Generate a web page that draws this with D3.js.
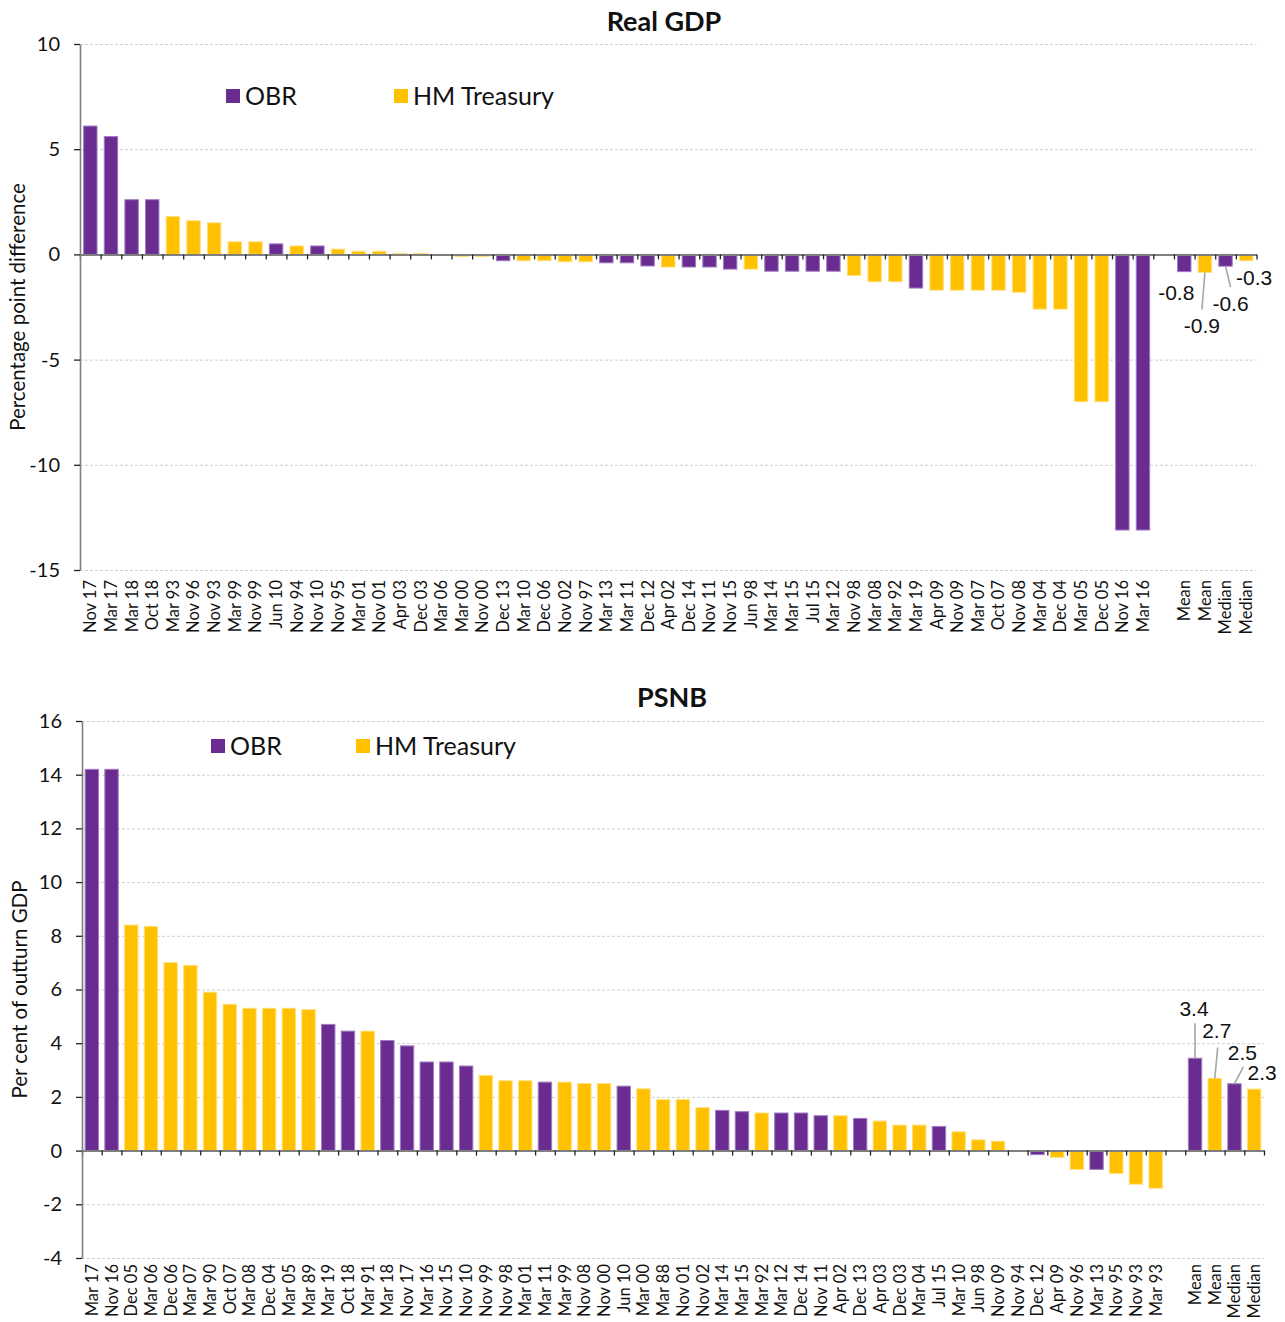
<!DOCTYPE html>
<html>
<head>
<meta charset="utf-8">
<script src="https://cdn.jsdelivr.net/npm/d3@7"></script>
<style>
  body { margin: 0; background: #fff; }
  text { font-family: Lato, "Open Sans", sans-serif; fill: #111; }
</style>
</head>
<body>
<svg id="chart" width="1285" height="1322"></svg>
<script>
// ---- Real GDP: forecast error by forecast round (percentage points) ----
const gdpLabels = ["Nov 17","Mar 17","Mar 18","Oct 18","Mar 93","Nov 96","Nov 93","Mar 99","Nov 99","Jun 10",
  "Nov 94","Nov 10","Nov 95","Mar 01","Nov 01","Apr 03","Dec 03","Mar 06","Mar 00","Nov 00",
  "Dec 13","Mar 10","Dec 06","Nov 02","Nov 97","Mar 13","Mar 11","Dec 12","Apr 02","Dec 14",
  "Nov 11","Nov 15","Jun 98","Mar 14","Mar 15","Jul 15","Mar 12","Nov 98","Mar 08","Mar 92",
  "Mar 19","Apr 09","Nov 09","Mar 07","Oct 07","Nov 08","Mar 04","Dec 04","Mar 05","Dec 05",
  "Nov 16","Mar 16","","Mean","Mean","Median","Median"];
const gdpValues = [6.1,5.6,2.6,2.6,1.8,1.6,1.5,0.6,0.6,0.5,
  0.4,0.4,0.25,0.15,0.15,0.05,0.05,-0.05,-0.1,-0.1,
  -0.3,-0.3,-0.3,-0.35,-0.35,-0.4,-0.4,-0.55,-0.6,-0.6,
  -0.6,-0.7,-0.7,-0.8,-0.8,-0.8,-0.8,-1.0,-1.3,-1.3,
  -1.6,-1.7,-1.7,-1.7,-1.7,-1.8,-2.6,-2.6,-7.0,-7.0,
  -13.1,-13.1,null,-0.82,-0.86,-0.56,-0.3];
const gdpSource = ["OBR","OBR","OBR","OBR","HMT","HMT","HMT","HMT","HMT","OBR",
  "HMT","OBR","HMT","HMT","HMT","HMT","HMT","HMT","HMT","HMT",
  "OBR","HMT","HMT","HMT","HMT","OBR","OBR","OBR","HMT","OBR",
  "OBR","OBR","HMT","OBR","OBR","OBR","OBR","HMT","HMT","HMT",
  "OBR","HMT","HMT","HMT","HMT","HMT","HMT","HMT","HMT","HMT",
  "OBR","OBR",null,"OBR","HMT","OBR","HMT"];
const gdpTicks = [-15,-10,-5,0,5,10];

// ---- PSNB: forecast error (per cent of outturn GDP) ----
const psnbLabels = ["Mar 17","Nov 16","Dec 05","Mar 06","Dec 06","Mar 07","Mar 90","Oct 07","Mar 08","Dec 04",
  "Mar 05","Mar 89","Mar 19","Oct 18","Mar 91","Mar 18","Nov 17","Mar 16","Nov 15","Nov 10",
  "Nov 99","Nov 98","Mar 01","Mar 11","Mar 99","Nov 08","Nov 00","Jun 10","Mar 00","Mar 88",
  "Nov 01","Nov 02","Mar 14","Mar 15","Mar 92","Mar 12","Dec 14","Nov 11","Apr 02","Dec 13",
  "Apr 03","Dec 03","Mar 04","Jul 15","Mar 10","Jun 98","Nov 09","Nov 94","Dec 12","Apr 09",
  "Nov 96","Mar 13","Nov 95","Nov 93","Mar 93","","Mean","Mean","Median","Median"];
const psnbValues = [14.2,14.2,8.4,8.35,7.0,6.9,5.9,5.45,5.3,5.3,
  5.3,5.25,4.7,4.45,4.45,4.1,3.9,3.3,3.3,3.15,
  2.8,2.6,2.6,2.55,2.55,2.5,2.5,2.4,2.3,1.9,
  1.9,1.6,1.5,1.45,1.4,1.4,1.4,1.3,1.3,1.2,
  1.1,0.95,0.95,0.9,0.7,0.4,0.35,0,-0.15,-0.25,
  -0.7,-0.7,-0.85,-1.25,-1.4,null,3.44,2.69,2.49,2.29];
const psnbSource = ["OBR","OBR","HMT","HMT","HMT","HMT","HMT","HMT","HMT","HMT",
  "HMT","HMT","OBR","OBR","HMT","OBR","OBR","OBR","OBR","OBR",
  "HMT","HMT","HMT","OBR","HMT","HMT","HMT","OBR","HMT","HMT",
  "HMT","HMT","OBR","OBR","HMT","OBR","OBR","OBR","HMT","OBR",
  "HMT","HMT","HMT","OBR","HMT","HMT","HMT","HMT","OBR","HMT",
  "HMT","OBR","HMT","HMT","HMT",null,"OBR","HMT","OBR","HMT"];
const psnbTicks = [-4,-2,0,2,4,6,8,10,12,14,16];

const seriesNames = { OBR: "OBR", HMT: "HM Treasury" };
const colors = { OBR: "#6b2c91", HMT: "#ffc000" };
const edges = { OBR: "#a07cc0", HMT: "#ffe07a" };

const svg = d3.select("#chart");
// plain hyphen for negatives, as in the original
const fmt = v => d3.format(".1f")(v).replace("\u2212", "-");
const tickFmt = v => String(v);

function drawPanel(cfg) {
  const n = cfg.labels.length;
  const rows = cfg.labels.map((l, i) => ({ i: i, label: l, value: cfg.values[i], src: cfg.source[i] }));
  const g = svg.append("g");

  const x = d3.scaleBand()
    .domain(d3.range(n))
    .range([cfg.left, cfg.right])
    .paddingInner(cfg.pad)
    .paddingOuter(cfg.pad / 2);
  const slot = d3.scaleLinear().domain([0, n]).range([cfg.left, cfg.right]);
  const y = d3.scaleLinear().domain(cfg.domain).range([cfg.bottom, cfg.top]);

  // gridlines
  g.append("g")
    .attr("transform", "translate(" + cfg.left + ",0)")
    .call(d3.axisLeft(y).tickValues(cfg.ticks.filter(t => t !== 0))
      .tickSize(-(cfg.right - cfg.left)).tickFormat(""))
    .call(s => s.select(".domain").remove())
    .call(s => s.selectAll("line").attr("stroke", "#cfcfcf").attr("stroke-dasharray", "3,2"));

  // bars
  g.append("g").selectAll("rect")
    .data(rows.filter(d => d.value !== null))
    .join("rect")
    .attr("x", d => x(d.i))
    .attr("width", x.bandwidth())
    .attr("y", d => y(Math.max(0, d.value)))
    .attr("height", d => Math.abs(y(d.value) - y(0)))
    .attr("fill", d => colors[d.src])
    .attr("stroke", d => edges[d.src])
    .attr("stroke-width", 1);

  // x axis at zero with slot boundary ticks
  g.append("g")
    .attr("transform", "translate(0," + y(0) + ")")
    .call(d3.axisBottom(slot).tickValues(d3.range(n + 1)).tickSize(5).tickSizeOuter(0).tickFormat(""))
    .call(s => s.select(".domain").attr("stroke", "#7f7f7f").attr("stroke-width", 2))
    .call(s => s.selectAll(".tick line").attr("stroke", "#222").attr("stroke-width", 1.3));

  // category labels along the bottom
  g.append("g")
    .attr("transform", "translate(0," + cfg.bottom + ")")
    .call(d3.axisBottom(x).tickSize(0).tickFormat(i => cfg.labels[i]))
    .call(s => s.select(".domain").remove())
    .call(s => s.selectAll("text")
      .attr("transform", "rotate(-90)")
      .attr("x", -cfg.labelGap)
      .attr("y", 0)
      .attr("dy", "0.36em")
      .style("text-anchor", "end")
      .style("font-size", "16.5px")
      .style("font-family", "Lato, sans-serif")
      .attr("fill", "#111"));

  // y axis
  g.append("g")
    .attr("transform", "translate(" + cfg.left + ",0)")
    .call(d3.axisLeft(y).tickValues(cfg.ticks).tickFormat(tickFmt).tickSize(6).tickPadding(14).tickSizeOuter(0))
    .call(s => s.select(".domain").attr("stroke", "#7f7f7f").attr("stroke-width", 1.6))
    .call(s => s.selectAll(".tick line").attr("stroke", "#222").attr("stroke-width", 1.3))
    .call(s => s.selectAll("text")
      .style("font-size", "20px")
      .style("font-family", "Lato, sans-serif")
      .attr("fill", "#111"));

  // y axis title
  g.append("text")
    .attr("transform", "translate(" + cfg.yTitleX + "," + ((cfg.top + cfg.bottom) / 2 + cfg.yTitleShift) + ") rotate(-90)")
    .attr("text-anchor", "middle")
    .style("font-size", "20.5px")
    .text(cfg.yTitle);

  // chart title
  g.append("text")
    .attr("x", cfg.titleX)
    .attr("y", cfg.titleY)
    .attr("text-anchor", "middle")
    .style("font-size", "27px")
    .style("font-weight", "bold")
    .text(cfg.title);

  // legend
  const leg = g.append("g").selectAll("g")
    .data(["OBR", "HMT"])
    .join("g")
    .attr("transform", (d, k) => "translate(" + cfg.legendX[k] + "," + cfg.legendY + ")");
  leg.append("rect")
    .attr("width", 14).attr("height", 14).attr("y", -7)
    .attr("fill", d => colors[d]);
  leg.append("text")
    .attr("x", 19).attr("dy", "0.36em")
    .style("font-size", "25px")
    .text(d => seriesNames[d]);

  // value labels on the mean/median bars
  const notes = rows.slice(n - 4);
  const ng = g.append("g");
  notes.forEach((d, k) => {
    const o = cfg.notes[k];
    const cx = x(d.i) + x.bandwidth() / 2;
    const end = y(d.value);
    if (o.lead) {
      ng.append("line")
        .attr("x1", cx + o.lead[0]).attr("y1", end + o.lead[1])
        .attr("x2", cx + o.lead[2]).attr("y2", end + o.lead[3])
        .attr("stroke", "#a6a6a6").attr("stroke-width", 1.6);
    }
    ng.append("text")
      .attr("x", cx + o.dx)
      .attr("y", end + o.dy)
      .attr("text-anchor", "middle")
      .style("font-family", "'Liberation Sans', Arial, sans-serif")
      .style("font-size", "21px")
      .text(fmt(d.value));
  });
}

drawPanel({
  labels: gdpLabels, values: gdpValues, source: gdpSource, ticks: gdpTicks,
  domain: [-15, 10], left: 80, right: 1256.5, top: 44, bottom: 570, pad: 0.35,
  labelGap: 10, title: "Real GDP", titleX: 664, titleY: 31,
  yTitle: "Percentage point difference", yTitleX: 25, yTitleShift: 0,
  legendX: [226, 394], legendY: 96,
  notes: [
    { dx: -8, dy: 28 },
    { dx: -3, dy: 61, lead: [0, 0, -3, 37] },
    { dx: 5, dy: 45, lead: [0, 0, 5, 21] },
    { dx: 8, dy: 24 }
  ]
});

drawPanel({
  labels: psnbLabels, values: psnbValues, source: psnbSource, ticks: psnbTicks,
  domain: [-4, 16], left: 82, right: 1264, top: 721, bottom: 1258, pad: 0.32,
  labelGap: 6, title: "PSNB", titleX: 672, titleY: 707,
  yTitle: "Per cent of outturn GDP", yTitleX: 27, yTitleShift: 0,
  legendX: [211, 356], legendY: 746,
  notes: [
    { dx: -1, dy: -42, lead: [0, 0, 0, -35] },
    { dx: 2, dy: -40, lead: [0, 0, 3, -31] },
    { dx: 8, dy: -24, lead: [0, 0, 9, -17] },
    { dx: 8, dy: -9 }
  ]
});
</script>
</body>
</html>
